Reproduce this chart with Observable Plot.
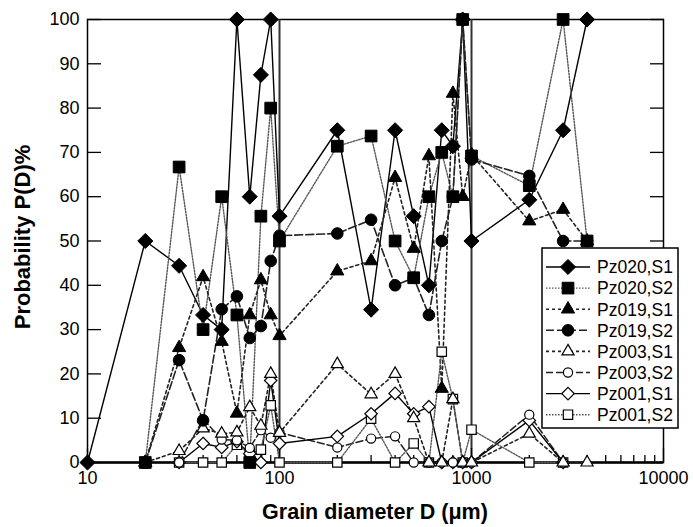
<!DOCTYPE html>
<html><head><meta charset="utf-8">
<script src="https://cdn.jsdelivr.net/npm/d3@7"></script>
<script src="https://cdn.jsdelivr.net/npm/@observablehq/plot@0.6"></script>
<style>
body{margin:0;background:#fff}
#wrap{position:relative;width:693px;height:527px;font-family:'Liberation Sans',Arial,sans-serif}
#legend{position:absolute;left:0;top:0;pointer-events:none}
</style>
</head><body><div id="wrap"></div>
<script>
// Grain diameters (µm)
const sizes = [10,20,30,40,50,60,70,80,90,100,200,300,400,500,600,700,800,900,1000,2000,3000,4000];
const seriesNames = ["Pz020,S1","Pz020,S2","Pz019,S1","Pz019,S2","Pz003,S1","Pz003,S2","Pz001,S1","Pz001,S2"];
const pz020S1 = [0,50,44.4,33.3,30,100,60,87.5,100,55.6,75,34.5,75,55.6,40,75,71.4,100,50,59.3,75,100];
const pz020S2 = [null,0,66.7,30,60,33.3,0,55.6,80,50,71.4,73.7,50,41.7,60,70,60,100,69.2,62.5,100,50];
const pz019S1 = [null,0,25.9,41.9,27.3,11.1,33.3,41.2,33.3,28.6,43.2,45.5,64.3,48.3,69.2,16.7,83.3,60,69.5,54.5,57.1,50];
const pz019S2 = [null,0,23.1,9.5,34.6,37.5,28.1,30.8,45.5,51.2,51.7,54.8,40,41.7,33.3,50,60,100,68.4,64.7,50,50];
const pz003S1 = [null,0,2.6,7.7,6.5,6.8,12.5,8.3,20,6.7,22.2,15.4,20,10,0,0,14.3,0,0,6.5,0,0];
const pz003S2 = [null,null,0,9.8,5.2,5,3.3,7.3,5.6,6.8,3.4,5.4,5.9,0,0,0,0,0,0,10.8,0,null];
const pz001S1 = [null,null,0,4.3,3.4,4.7,2,0,18.5,4.3,5.9,11,15.6,11,12.6,0,0,0,0,9.5,0,null];
const pz001S2 = [null,null,0,0,0,4,2,2.9,12.9,0,0,9.9,0,4.3,0,25,14.3,0,7.4,0,0,null];
const seriesValues = [pz020S1,pz020S2,pz019S1,pz019S2,pz003S1,pz003S2,pz001S1,pz001S2];
const majorTicksX = [10,100,1000,10000];
const minorTicksX = [20,30,40,50,60,70,80,90,200,300,400,500,600,700,800,900,2000,3000,4000,5000,6000,7000,8000,9000];
const ticksY = [0,10,20,30,40,50,60,70,80,90,100];
const boundaries = [100,1000];

// styles
const sty = {
  "Pz020,S1": {symbol:"diamond2", r:6.8, fill:"black", dash:null, stroke:"black", sw:1.4},
  "Pz020,S2": {symbol:"square", r:6.6, fill:"black", dash:"1.5,1.5", stroke:"#555", sw:1.4},
  "Pz019,S1": {symbol:"triangle", r:4.9, fill:"black", dash:"3,3", stroke:"#222", sw:1.6},
  "Pz019,S2": {symbol:"circle", r:5.8, fill:"black", dash:"8,3", stroke:"#222", sw:1.6},
  "Pz003,S1": {symbol:"triangle", r:4.5, fill:"white", dash:"3,3", stroke:"#222", sw:1.6},
  "Pz003,S2": {symbol:"circle", r:4.6, fill:"white", dash:"7,3", stroke:"#222", sw:1.5},
  "Pz001,S1": {symbol:"diamond2", r:5.6, fill:"white", dash:null, stroke:"black", sw:1.4},
  "Pz001,S2": {symbol:"square", r:5.3, fill:"white", dash:"1.5,1.5", stroke:"#555", sw:1.4}
};

const tables = seriesNames.map((name, k) =>
  sizes.map((D, i) => ({series: name, D, P: seriesValues[k][i]})).filter(d => d.P != null));

const lineMarks = tables.map((t, k) => {
  const s = sty[seriesNames[k]];
  return Plot.line(t, {x: "D", y: "P", stroke: s.stroke, strokeWidth: s.sw, strokeDasharray: s.dash});
});
const order = [7,6,5,4,3,2,1,0];
const dotMarks = order.map(k => {
  const s = sty[seriesNames[k]];
  return Plot.dot(tables[k], {x: "D", y: "P", symbol: s.symbol, r: s.r, fill: s.fill, stroke: "black", strokeWidth: s.fill === "white" ? 1.2 : 1});
});

const W = 693, H = 527;
const chart = Plot.plot({
  width: W, height: H,
  marginLeft: 87, marginRight: 30, marginTop: 19, marginBottom: 65,
  style: {fontFamily: "'Liberation Sans', Arial, sans-serif", fontSize: "18px", color: "black", background: "white", overflow: "visible"},
  x: {type: "log", domain: [10, 10000]},
  y: {domain: [0, 100]},
  marks: [
    Plot.frame({stroke: "black", strokeWidth: 1.5}),
    Plot.ruleX(boundaries, {stroke: "#333", strokeWidth: 2}),
    Plot.ruleY([0], {stroke: "black", strokeWidth: 2.5}),
    Plot.axisX(majorTicksX, {tickSize: -14, tickFormat: () => "", label: null, strokeWidth: 1.3}),
    Plot.axisX(minorTicksX, {tickSize: -7, tickFormat: () => "", label: null, strokeWidth: 1.3}),
    Plot.axisX(majorTicksX, {tickSize: 0, tickPadding: 9, tickFormat: d => String(d), label: null, fontSize: 18}),
    Plot.axisY(ticksY, {anchor: "left", tickSize: -14, tickFormat: () => "", label: null, strokeWidth: 1.3}),
    Plot.axisY(ticksY, {anchor: "right", tickSize: -14, tickFormat: () => "", label: null, strokeWidth: 1.3}),
    Plot.axisY(ticksY, {anchor: "left", tickSize: 0, tickPadding: 8, tickFormat: d => String(d), label: null, fontSize: 18}),
    ...lineMarks,
    ...dotMarks
  ]
});
document.getElementById("wrap").appendChild(chart);

const svg = d3.select(chart);
svg.append("text").attr("x", 375).attr("y", 519).attr("text-anchor", "middle")
  .attr("font-size", 21.5).attr("font-weight", "bold").attr("fill", "black")
  .text("Grain diameter D (μm)");
svg.append("text").attr("transform", "translate(30,237) rotate(-90)").attr("text-anchor", "middle")
  .attr("font-size", 22).attr("font-weight", "bold").attr("fill", "black")
  .text("Probability P(D)%");

// Legend overlay
const symMap = {diamond2: d3.symbolDiamond2, square: d3.symbolSquare, triangle: d3.symbolTriangle, circle: d3.symbolCircle};
const lg = d3.select("#wrap").append("svg").attr("id", "legend").attr("width", W).attr("height", H);
lg.append("rect").attr("x", 542).attr("y", 248).attr("width", 136).attr("height", 180)
  .attr("fill", "white").attr("stroke", "black").attr("stroke-width", 1.5);
seriesNames.forEach((name, i) => {
  const s = sty[name];
  const y = 267 + i * 21.1;
  lg.append("line").attr("x1", 546).attr("x2", 590).attr("y1", y).attr("y2", y)
    .attr("stroke", s.stroke).attr("stroke-width", s.sw).attr("stroke-dasharray", s.dash);
  lg.append("path").attr("transform", `translate(568,${y})`)
    .attr("d", d3.symbol(symMap[s.symbol], Math.PI * s.r * s.r)())
    .attr("fill", s.fill).attr("stroke", "black").attr("stroke-width", s.fill === "white" ? 1.2 : 1);
  lg.append("text").attr("x", 597).attr("y", y).attr("dy", "0.36em")
    .attr("font-size", 17.5).attr("fill", "black")
    .attr("font-family", "'Liberation Sans', Arial, sans-serif").text(name);
});
</script>
</body></html>
